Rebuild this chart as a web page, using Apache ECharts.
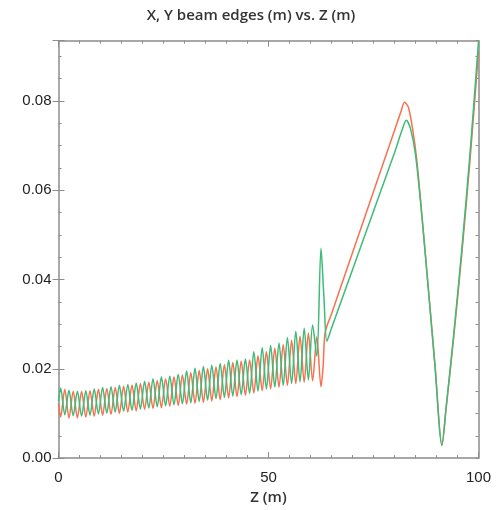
<!DOCTYPE html>
<html>
<head>
<meta charset="utf-8">
<script src="https://cdn.jsdelivr.net/npm/echarts@6/dist/echarts.min.js"></script>
<style>html,body{margin:0;padding:0;background:#fff;}#c{width:502px;height:510px;}</style>
</head>
<body>
<div id="c"></div>
<script>
// Z positions (m) of the oscillating section
const zOsc = [0, 0.5, 1.5, 2.5, 3.5, 4.5, 5.5, 6.5, 7.5, 8.5, 9.5, 10.5, 11.5, 12.5, 13.5, 14.5, 15.5, 16.5, 17.5, 18.5, 19.5,
  20.5, 21.5, 22.5, 23.5, 24.5, 25.5, 26.5, 27.5, 28.5, 29.5, 30.5, 31.5, 32.5, 33.5, 34.5, 35.5, 36.5, 37.5, 38.5, 39.5,
  40.5, 41.5, 42.5, 43.5, 44.5, 45.5, 46.5, 47.5, 48.5, 49.5, 50.5, 51.5, 52.5, 53.5, 54.5, 55.5, 56.5, 57.5, 58.5, 59.5,
  60.5, 61.5, 62.5];
// X beam edge (red) in the oscillating section
const xEdgeOsc = [0.0123, 0.0092, 0.0154, 0.0090, 0.0150, 0.0090, 0.0149, 0.0092, 0.0151, 0.0094, 0.0154, 0.0096, 0.0156, 0.0098, 0.0158, 0.0100, 0.0161, 0.0103, 0.0164, 0.0106, 0.0167,
  0.0109, 0.0170, 0.0111, 0.0174, 0.0113, 0.0178, 0.0116, 0.0182, 0.0118, 0.0186, 0.0121, 0.0191, 0.0123, 0.0196, 0.0125, 0.0200, 0.0128, 0.0204, 0.0131, 0.0209,
  0.0135, 0.0214, 0.0138, 0.0217, 0.0141, 0.0220, 0.0146, 0.0229, 0.0151, 0.0238, 0.0155, 0.0246, 0.0159, 0.0254, 0.0163, 0.0264, 0.0167, 0.0273, 0.0170, 0.0280,
  0.0173, 0.0272, 0.0160];
// Y beam edge (green) in the oscillating section
const yEdgeOsc = [0.0127, 0.0157, 0.0097, 0.0152, 0.0095, 0.0150, 0.0094, 0.0151, 0.0096, 0.0155, 0.0099, 0.0158, 0.0101, 0.0160, 0.0103, 0.0163, 0.0105, 0.0165, 0.0107, 0.0168, 0.0110,
  0.0172, 0.0112, 0.0178, 0.0115, 0.0182, 0.0117, 0.0184, 0.0119, 0.0188, 0.0122, 0.0195, 0.0124, 0.0201, 0.0127, 0.0205, 0.0130, 0.0208, 0.0133, 0.0212, 0.0136,
  0.0219, 0.0139, 0.0220, 0.0142, 0.0222, 0.0145, 0.0238, 0.0150, 0.0247, 0.0155, 0.0252, 0.0159, 0.0258, 0.0163, 0.0270, 0.0167, 0.0284, 0.0171, 0.0291, 0.0175,
  0.0298, 0.0228, 0.0470];
// Downstream section
const zTailX = [63.0, 63.5, 65, 70, 75, 80, 81.5, 82.4, 83.3, 84.3, 85.3, 86.6, 88.1, 89.7, 91.3, 92.3, 94, 96, 98, 100];
const xEdgeTail = [0.0205, 0.0282, 0.0323, 0.0460, 0.0597, 0.0734, 0.0775, 0.0797, 0.0786, 0.0738, 0.0668, 0.0535, 0.0375, 0.0203, 0.0029, 0.0112, 0.0262, 0.0455, 0.0670, 0.0910];
const zTailY = [63.2, 63.9, 65, 70, 75, 80, 81.8, 82.8, 83.8, 85.0, 86.5, 88.0, 89.6, 91.3, 92.3, 94, 96, 98, 100];
const yEdgeTail = [0.0360, 0.0262, 0.0291, 0.0422, 0.0553, 0.0684, 0.0735, 0.0757, 0.0738, 0.0680, 0.0545, 0.0385, 0.0210, 0.0029, 0.0115, 0.0268, 0.0465, 0.0685, 0.0933];
const xTicks = [0, 50, 100];
const yTicks = [0, 0.02, 0.04, 0.06, 0.08];

function pairs(zs, vs) { return zs.map((z, i) => [z, vs[i]]); }
const xData = pairs(zOsc, xEdgeOsc).concat(pairs(zTailX, xEdgeTail));
const yData = pairs(zOsc, yEdgeOsc).concat(pairs(zTailY, yEdgeTail));

const AX = '#8c8c8c';
const FONT = 'Liberation Sans';
const Y_MAX = 0.0935;
function isMajorY(v) { return yTicks.some(t => Math.abs(t - v) < 1e-9); }

const chart = echarts.init(document.getElementById('c'), null, {renderer: 'canvas'});
chart.setOption({
  animation: false,
  backgroundColor: '#fff',
  title: {
    text: 'X, Y beam edges (m) vs. Z (m)', left: 'center', top: 3,
    textStyle: {fontFamily: 'Open Sans', fontSize: 15, fontWeight: 600, color: '#333'}
  },
  grid: {left: 58.5, right: 23.5, top: 40.7, bottom: 51.7, containLabel: false},
  xAxis: [
    {
      type: 'value', min: xTicks[0], max: xTicks[2], interval: 50, position: 'bottom',
      name: 'Z (m)', nameLocation: 'middle', nameGap: 30,
      nameTextStyle: {fontFamily: 'Open Sans', fontSize: 15, fontWeight: 600, color: '#333'},
      axisLine: {lineStyle: {color: AX, width: 1.5}},
      axisTick: {inside: true, length: 6, lineStyle: {color: AX, width: 1}},
      minorTick: {show: true, splitNumber: 10, length: 3, lineStyle: {color: AX, width: 1}},
      splitLine: {show: false}, minorSplitLine: {show: false},
      axisLabel: {fontFamily: FONT, fontSize: 15, color: '#222', margin: 12}
    },
    {
      type: 'value', min: 0, max: 100, interval: 50, position: 'top',
      axisLine: {show: true, onZero: false, lineStyle: {color: AX, width: 1.5}},
      axisTick: {inside: true, length: 6, lineStyle: {color: AX, width: 1}},
      minorTick: {show: true, splitNumber: 10, length: 3, lineStyle: {color: AX, width: 1}},
      splitLine: {show: false}, axisLabel: {show: false}
    }
  ],
  yAxis: [
    {
      type: 'value', min: 0, max: Y_MAX, interval: 0.005, position: 'left',
      axisLine: {show: true, onZero: false, lineStyle: {color: AX, width: 1.5}},
      axisTick: {show: true, inside: true, length: 3, lineStyle: {color: AX, width: 1}},
      splitLine: {show: false},
      axisLabel: {
        fontFamily: FONT, fontSize: 15, color: '#222', margin: 7, showMaxLabel: false,
        formatter: v => isMajorY(v) ? v.toFixed(2) : ''
      }
    },
    {
      type: 'value', min: 0, max: Y_MAX, interval: 0.02, position: 'left',
      axisLine: {show: false},
      axisTick: {show: true, inside: true, length: 6, lineStyle: {color: AX, width: 1}},
      splitLine: {show: false}, axisLabel: {show: false}
    },
    {
      type: 'value', min: 0, max: Y_MAX, interval: 0.005, position: 'right',
      axisLine: {show: true, onZero: false, lineStyle: {color: AX, width: 1.5}},
      axisTick: {show: true, inside: true, length: 3, lineStyle: {color: AX, width: 1}},
      splitLine: {show: false}, axisLabel: {show: false}
    },
    {
      type: 'value', min: 0, max: Y_MAX, interval: 0.02, position: 'right',
      axisLine: {show: false},
      axisTick: {show: true, inside: true, length: 6, lineStyle: {color: AX, width: 1}},
      splitLine: {show: false}, axisLabel: {show: false}
    }
  ],
  series: [
    {
      name: 'X edge', type: 'line', data: xData, xAxisIndex: 0, yAxisIndex: 0,
      showSymbol: false, smooth: 0.3,
      lineStyle: {color: '#f8714e', width: 1.5}, itemStyle: {color: '#f8714e'}
    },
    {
      name: 'Y edge', type: 'line', data: yData, xAxisIndex: 0, yAxisIndex: 0,
      showSymbol: false, smooth: 0.3,
      lineStyle: {color: '#3dbb78', width: 1.5}, itemStyle: {color: '#3dbb78'}
    }
  ]
});
</script>
</body>
</html>
